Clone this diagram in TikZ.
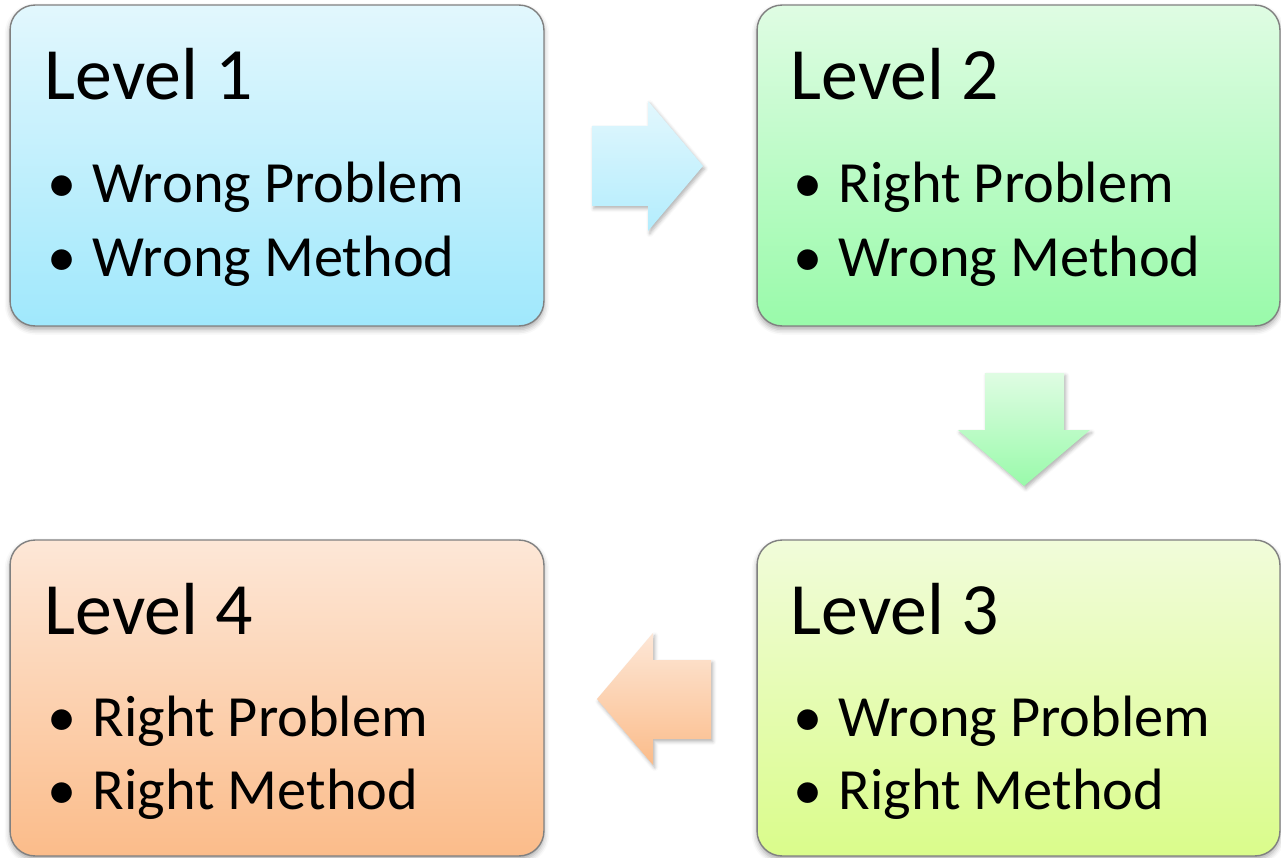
\documentclass[tikz,border=0pt]{standalone}
\usepackage{fontspec}
\setmainfont{Carlito}
\usetikzlibrary{calc,shadows.blur}

\definecolor{blueTop}{RGB}{226,247,253}
\definecolor{blueBot}{RGB}{160,232,252}
\definecolor{greenTop}{RGB}{223,252,227}
\definecolor{greenBot}{RGB}{153,250,170}
\definecolor{limeTop}{RGB}{241,252,218}
\definecolor{limeBot}{RGB}{218,252,139}
\definecolor{peachTop}{RGB}{253,231,215}
\definecolor{peachBot}{RGB}{251,188,138}
\definecolor{frameGray}{RGB}{128,128,128}

\tikzset{
  lvlbox/.style={draw=frameGray, line width=0.8pt, rounded corners=0.5cm,
    inner sep=0pt, blur shadow={shadow xshift=0pt, shadow yshift=-2pt,
    shadow blur radius=3pt, shadow opacity=35}},
  lvltitle/.style={anchor=base west, inner sep=0pt, font=\fontsize{42}{50}\selectfont},
  lvlitem/.style={anchor=base west, inner sep=0pt, font=\fontsize{33.2}{40}\selectfont},
  blockarrow/.style={draw=none, blur shadow={shadow xshift=1pt, shadow yshift=-1.5pt,
    shadow blur radius=2pt, shadow opacity=30}}
}

\begin{document}
\begin{tikzpicture}[x=0.02cm,y=-0.02cm]
\useasboundingbox (0,0) rectangle (1281,858);

% Drawing box of level 1
\node[lvlbox, top color=blueTop, bottom color=blueBot,
  minimum width=10.68cm, minimum height=6.42cm] (lvlA) at (277,165.5) {};
\node[lvltitle] (lvlAt) at ($(lvlA.north west)+(35,95)$) {Level 1};
\node[lvlitem] (lvlAb1) at ($(lvlA.north west)+(38,198)$) {•};
\node[lvlitem] (lvlAi1) at ($(lvlA.north west)+(83,198)$) {Wrong Problem};
\node[lvlitem] (lvlAb2) at ($(lvlA.north west)+(38,272)$) {•};
\node[lvlitem] (lvlAi2) at ($(lvlA.north west)+(83,272)$) {Wrong Method};

% Drawing box of level 2
\node[lvlbox, top color=greenTop, bottom color=greenBot,
  minimum width=10.46cm, minimum height=6.42cm] (lvlB) at (1018.5,165.5) {};
\node[lvltitle] (lvlBt) at ($(lvlB.north west)+(34,95)$) {Level 2};
\node[lvlitem] (lvlBb1) at ($(lvlB.north west)+(37,198)$) {•};
\node[lvlitem] (lvlBi1) at ($(lvlB.north west)+(82,198)$) {Right Problem};
\node[lvlitem] (lvlBb2) at ($(lvlB.north west)+(37,272)$) {•};
\node[lvlitem] (lvlBi2) at ($(lvlB.north west)+(82,272)$) {Wrong Method};

% Drawing box of level 3
\node[lvlbox, top color=limeTop, bottom color=limeBot,
  minimum width=10.46cm, minimum height=6.32cm] (lvlC) at (1018.5,698) {};
\node[lvltitle] (lvlCt) at ($(lvlC.north west)+(34,95)$) {Level 3};
\node[lvlitem] (lvlCb1) at ($(lvlC.north west)+(37,197)$) {•};
\node[lvlitem] (lvlCi1) at ($(lvlC.north west)+(82,197)$) {Wrong Problem};
\node[lvlitem] (lvlCb2) at ($(lvlC.north west)+(37,270)$) {•};
\node[lvlitem] (lvlCi2) at ($(lvlC.north west)+(82,270)$) {Right Method};

% Drawing box of level 4
\node[lvlbox, top color=peachTop, bottom color=peachBot,
  minimum width=10.68cm, minimum height=6.32cm] (lvlD) at (277,698) {};
\node[lvltitle] (lvlDt) at ($(lvlD.north west)+(35,95)$) {Level 4};
\node[lvlitem] (lvlDb1) at ($(lvlD.north west)+(38,197)$) {•};
\node[lvlitem] (lvlDi1) at ($(lvlD.north west)+(83,197)$) {Right Problem};
\node[lvlitem] (lvlDb2) at ($(lvlD.north west)+(38,270)$) {•};
\node[lvlitem] (lvlDi2) at ($(lvlD.north west)+(83,270)$) {Right Method};

% Drawing arrow from level 1 to level 2
\path[blockarrow, top color=blueTop, bottom color=blueBot!80!white]
  (592,126) -- (648,126) -- (648,101) -- (703,166) -- (648,231) -- (648,206) -- (592,206) -- cycle;

% Drawing arrow from level 2 to level 3
\path[blockarrow, top color=greenTop, bottom color=greenBot]
  (985,373) -- (1064,373) -- (1064,430) -- (1090,430) -- (1024,486) -- (958,430) -- (985,430) -- cycle;

% Drawing arrow from level 3 to level 4
\path[blockarrow, top color=peachTop, bottom color=peachBot]
  (711,660) -- (653,660) -- (653,633) -- (597,699) -- (653,765) -- (653,739) -- (711,739) -- cycle;

\end{tikzpicture}
\end{document}
